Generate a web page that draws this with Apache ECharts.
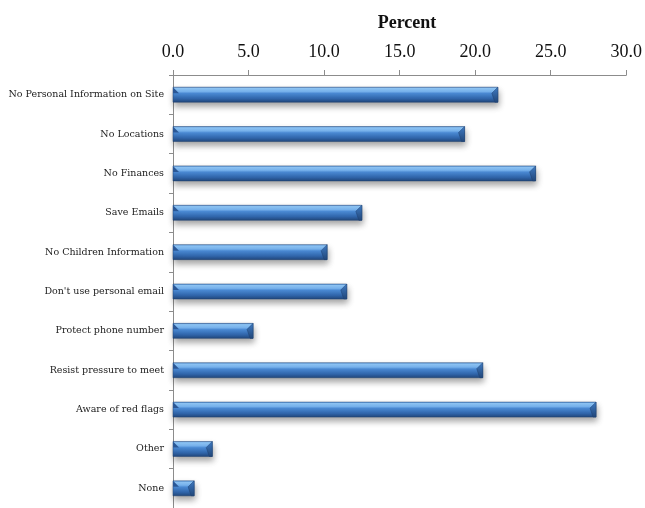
<!DOCTYPE html>
<html>
<head>
<meta charset="utf-8">
<title>Percent</title>
<script src="https://cdn.jsdelivr.net/npm/echarts@6/dist/echarts.min.js"></script>
<style>
  html, body { margin: 0; padding: 0; background: #fff; }
  #chart { width: 645px; height: 508px; }
</style>
</head>
<body>
<div id="chart"></div>
<script>
// Survey answers, top to bottom
const categories = [
  'No Personal Information on Site',
  'No Locations',
  'No Finances',
  'Save Emails',
  'No Children Information',
  "Don't use personal email",
  'Protect phone number',
  'Resist pressure to meet',
  'Aware of red flags',
  'Other',
  'None'
];

// Share of respondents (%)
const percents = [21.5, 19.3, 24.0, 12.5, 10.2, 11.5, 5.3, 20.5, 28.0, 2.6, 1.4];

// Value axis ticks
const axisMin = 0;
const axisMax = 30;
const axisStep = 5;

const chart = echarts.init(document.getElementById('chart'), null, { renderer: 'canvas' });

const BAR_H = 15;
const BEVEL = 6;

// Bar body: glossy band near the top, darker underside
const bodyFill = new echarts.graphic.LinearGradient(0, 0, 0, 1, [
  { offset: 0.00, color: '#4f8dd6' },
  { offset: 0.10, color: '#8fc6f6' },
  { offset: 0.30, color: '#78b4f0' },
  { offset: 0.42, color: '#4b8bd6' },
  { offset: 0.75, color: '#3065aa' },
  { offset: 1.00, color: '#22477b' }
]);
const endFill = new echarts.graphic.LinearGradient(0, 0, 0, 1, [
  { offset: 0, color: '#3f7bc4' },
  { offset: 1, color: '#214678' }
]);

function renderBar(params, api) {
  const v = api.value(0);
  const c = api.value(1);
  const p0 = api.coord([0, c]);
  const p1 = api.coord([v, c]);
  const x0 = p0[0], x1 = p1[0];
  const y0 = p0[1] - BAR_H / 2;
  const w = Math.max(x1 - x0, 1);
  const b = Math.min(BEVEL, w / 2);
  return {
    type: 'group',
    children: [
      {
        type: 'rect',
        shape: { x: x0, y: y0, width: w, height: BAR_H },
        style: {
          fill: bodyFill,
          stroke: '#1f4170',
          lineWidth: 0.5,
          shadowColor: 'rgba(0,0,0,0.36)',
          shadowBlur: 6,
          shadowOffsetX: 1,
          shadowOffsetY: 4
        }
      },
      {
        // left chamfer
        type: 'polygon',
        shape: { points: [[x0, y0], [x0 + b, y0 + b], [x0, y0 + b]] },
        style: { fill: '#2a5796' }
      },
      {
        // right end face
        type: 'polygon',
        shape: { points: [[x1, y0], [x1, y0 + BAR_H], [x1 - b * 0.5, y0 + BAR_H], [x1 - b, y0 + b]] },
        style: { fill: endFill, stroke: '#1f4170', lineWidth: 0.5 }
      }
    ]
  };
}

const option = {
  backgroundColor: '#ffffff',
  animation: false,
  title: {
    text: 'Percent',
    left: 402,
    top: 9,
    textAlign: 'center',
    textStyle: {
      fontFamily: 'Liberation Serif',
      fontWeight: 'bold',
      fontSize: 18,
      color: '#111'
    }
  },
  grid: {
    left: 173,
    right: 16,
    top: 75,
    height: 436,
    containLabel: false
  },
  xAxis: {
    type: 'value',
    position: 'top',
    min: axisMin,
    max: axisMax,
    interval: axisStep,
    splitLine: { show: false },
    axisLine: { show: true, lineStyle: { color: '#8c8c8c', width: 1 } },
    axisTick: { show: true, inside: false, length: 5, lineStyle: { color: '#8c8c8c' } },
    axisLabel: {
      margin: 14,
      fontFamily: 'Liberation Serif',
      fontSize: 18,
      color: '#111',
      formatter: (v) => v.toFixed(1)
    }
  },
  yAxis: {
    type: 'category',
    inverse: true,
    data: categories,
    boundaryGap: true,
    axisLine: { show: true, lineStyle: { color: '#8c8c8c', width: 1 } },
    axisTick: { show: true, length: 4, alignWithLabel: false, lineStyle: { color: '#8c8c8c' } },
    axisLabel: {
      margin: 9,
      fontFamily: 'DejaVu Serif',
      fontSize: 9.5,
      color: '#222'
    }
  },
  series: [{
    type: 'custom',
    renderItem: renderBar,
    encode: { x: 0, y: 1 },
    data: percents.map((v, i) => [v, i]),
    clip: false
  }]
};

chart.setOption(option);
</script>
</body>
</html>
